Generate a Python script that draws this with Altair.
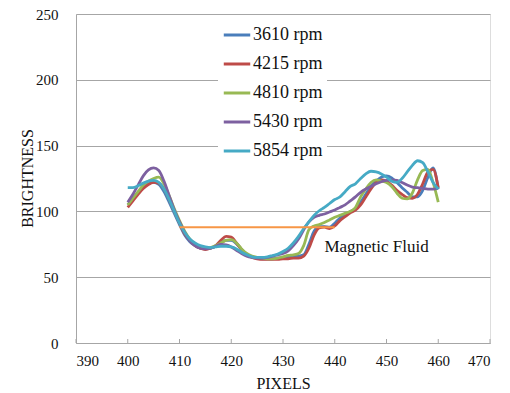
import altair as alt
import pandas as pd

pixels = list(range(400, 461))

rpm_3610 = [105, 109, 114, 118, 121, 122, 120.5, 115, 107, 98.5,
            90, 82, 77, 74, 72, 71.5, 72, 73.5, 76, 78,
            78, 75.5, 71, 67.5, 65.5, 64.5, 64, 64, 64, 64.5,
            65, 65.5, 66, 66, 67, 75, 85, 88.5, 88.5, 88,
            91, 95, 97.5, 100, 102, 107, 113, 119, 123, 126,
            127, 125.5, 122, 118, 114.5, 111, 111, 116, 126, 133,
            117]
rpm_4215 = [103, 108, 113, 117.5, 120.5, 122, 121.5, 117, 109, 100,
            91, 83, 78, 74, 72, 71, 72, 74, 78, 81,
            80.5, 76, 71, 67, 65, 64, 63.5, 63.5, 63.5, 63.5,
            64, 64, 64.5, 64.5, 66, 72, 82, 87.5, 88, 87,
            89, 93, 96, 99, 101, 105, 111, 117, 122, 124,
            123, 120, 116, 113, 110.5, 110, 113, 121, 130, 132,
            118]
rpm_4810 = [105, 110, 115, 120, 123, 125, 126, 121, 112, 102,
            93, 85, 79, 75, 73, 72, 72.5, 74, 76, 78,
            78.5, 76, 71.5, 68, 66, 65, 64.5, 64, 64, 64.5,
            65.5, 66.5, 67, 68, 74, 86, 89, 90, 91.5, 93.5,
            95.5, 97, 98.5, 100, 103, 111, 117, 122, 124, 123,
            122, 119, 114, 110, 109.5, 114, 124, 131, 132, 122,
            107]
rpm_5430 = [107, 113, 120, 127, 131.5, 133, 131, 123, 112, 101,
            92, 84, 78, 74, 72, 71.5, 72, 73.5, 75, 74.5,
            73, 70.5, 68, 66, 65, 64.5, 64.5, 65, 66, 67,
            68, 70, 74, 79, 86, 92, 95.5, 97, 98, 99.5,
            101, 103, 105, 108, 111, 114.5, 117, 119, 121, 122.5,
            123.5, 124, 123.5, 122, 120, 118.5, 118, 117.5, 117, 117,
            117.5]
rpm_5854 = [118, 118, 119.5, 121.5, 123, 123.5, 122, 117, 109, 100,
            91, 84, 79, 76, 74, 73, 72.5, 73, 73.5, 73.5,
            73, 71.5, 69, 67, 65.5, 65, 65, 65.5, 66.5, 67.5,
            69.5, 72, 76, 81, 87, 92, 97, 100.5, 103, 106,
            109, 111, 115, 119, 121, 125, 128.5, 130.5, 130, 128.5,
            126, 123, 122, 125, 130, 135, 138.5, 137, 130, 122,
            117]

series_names = ["3610 rpm", "4215 rpm", "4810 rpm", "5430 rpm", "5854 rpm"]
series_values = [rpm_3610, rpm_4215, rpm_4810, rpm_5430, rpm_5854]
series_colors = ["#4A7EBB", "#BE4B48", "#98B954", "#7D60A0", "#46AAC5"]

x_ticks = list(range(390, 471, 10))
y_ticks = list(range(0, 251, 50))

fluid_x = [410, 440]
fluid_y = 88
label_text = "Magnetic Fluid"
label_x = 438
label_y = 73

rows = []
for name, vals in zip(series_names, series_values):
    for p, v in zip(pixels, vals):
        rows.append({"pixel": p, "brightness": v, "speed": name})
df = pd.DataFrame(rows)

FONT = "Liberation Serif"
GRID = "#A6A6A6"
INK = "#111111"

xscale = alt.Scale(domain=[390, 470], nice=False, zero=False)
yscale = alt.Scale(domain=[0, 250], nice=False)

lines = alt.Chart(df).mark_line(interpolate="monotone", strokeWidth=2.8).encode(
    x=alt.X("pixel:Q", scale=xscale,
            axis=alt.Axis(values=x_ticks, grid=False, ticks=False, title="PIXELS",
                          domainColor=GRID, labelFont=FONT, labelFontSize=15,
                          labelColor=INK, labelPadding=10,
                          titleFont=FONT, titleFontSize=16, titleFontWeight="normal",
                          titleColor=INK, titleY=40, titleBaseline="middle")),
    y=alt.Y("brightness:Q", scale=yscale,
            axis=alt.Axis(values=y_ticks, grid=True, gridColor=GRID, ticks=False,
                          title="BRIGHTNESS", domainColor=GRID, labelFont=FONT,
                          labelFontSize=15, labelColor=INK, labelPadding=18,
                          titleFont=FONT, titleFontSize=16, titleFontWeight="normal",
                          titleColor=INK, titleX=-49, titleY=164,
                          titleBaseline="middle")),
    color=alt.Color("speed:N",
                    scale=alt.Scale(domain=series_names, range=series_colors),
                    legend=alt.Legend(title=None, orient="none", legendX=142, legendY=2,
                                      fillColor="white", padding=4,
                                      symbolType="stroke", symbolSize=700,
                                      symbolStrokeWidth=3, labelFont=FONT,
                                      labelFontSize=18, labelColor=INK,
                                      labelOffset=1, rowPadding=5)),
)

tick_df = pd.DataFrame({"pixel": x_ticks})
ticks = alt.Chart(tick_df).mark_rule(color=GRID, strokeWidth=1).encode(
    x=alt.X("pixel:Q", scale=xscale),
    y=alt.value(325),
    y2=alt.value(329),
)

fluid_df = pd.DataFrame({"x": [fluid_x[0]], "x2": [fluid_x[1]], "y": [fluid_y]})
fluid = alt.Chart(fluid_df).mark_rule(color="#F79646", strokeWidth=2).encode(
    x=alt.X("x:Q", scale=xscale),
    x2="x2:Q",
    y=alt.Y("y:Q", scale=yscale),
)

text_df = pd.DataFrame({"x": [label_x], "y": [label_y], "t": [label_text]})
text = alt.Chart(text_df).mark_text(align="left", baseline="middle", font=FONT,
                                    fontSize=17, color=INK).encode(
    x=alt.X("x:Q", scale=xscale),
    y=alt.Y("y:Q", scale=yscale),
    text="t:N",
)

chart = alt.layer(ticks, lines, fluid, text).properties(
    width=414, height=329,
    padding={"left": 68, "top": 6, "right": 10, "bottom": 48},
    autosize="none",
).configure_view(stroke=None).configure(background="white", font=FONT)

chart.save("out.html", embed_options={"renderer": "svg", "actions": False})
